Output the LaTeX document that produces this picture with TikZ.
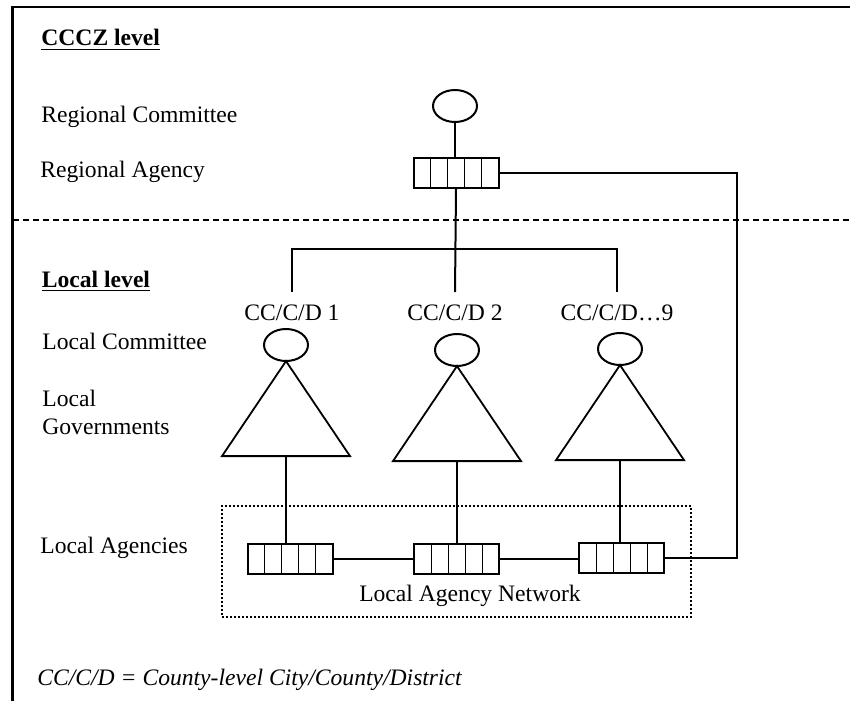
\documentclass[tikz,border=0pt]{standalone}
\usepackage{fontspec}
\setmainfont{Liberation Serif}
\usetikzlibrary{shapes.geometric}

\tikzset{
  committee/.style={draw, ellipse, line width=1pt, minimum width=22pt,
    minimum height=16pt, inner sep=0pt},
  govt/.style={draw, isosceles triangle, shape border rotate=90,
    isosceles triangle stretches, line width=0.9pt, minimum width=64pt,
    minimum height=47.5pt, inner sep=0pt, anchor=lower side},
  agency/.style={draw, line width=1pt, minimum width=42.5pt,
    minimum height=15pt, inner sep=0pt,
    path picture={
      \foreach \k in {1,...,4}
        \draw[line width=0.5pt]
          ([xshift=\k*8.5pt]path picture bounding box.south west) --
          ([xshift=\k*8.5pt]path picture bounding box.north west);
    }},
  lbl/.style={anchor=base west, inner sep=0pt,
    font=\fontsize{11.8}{13.8}\selectfont},
  cc/.style={anchor=base, inner sep=0pt,
    font=\fontsize{11.8}{13.8}\selectfont},
  link/.style={line width=1pt},
}

\begin{document}
\begin{tikzpicture}[x=0.5pt, y=-0.5pt]
\useasboundingbox (0,0) rectangle (850,701);

% frame and level divider
\draw[line width=1.2pt] (12.5,701) -- (12.5,7) -- (850,7);
\draw[line width=0.6pt, dash pattern=on 3pt off 2pt] (12.5,220) -- (850,220);

% row labels
\node[lbl] (cccz) at (41,46) {\underline{\textbf{CCCZ level}}};
\node[lbl] (rcl) at (41,122) {Regional Committee};
\node[lbl] (ral) at (40,177) {Regional Agency};
\node[lbl] (loc) at (41.5,287.5) {\underline{\textbf{Local level}}};
\node[lbl] (lcl) at (42,349) {Local Committee};
\node[lbl, align=left] (lgl) at (42,434) {Local\\Governments};
\node[lbl] (lal) at (40,553) {Local Agencies};

% regional level
\node[committee] (rc) at (455,106) {};
\node[agency] (ra) at (456,173) {};
\coordinate (bar) at (455,249);
\coordinate (turn) at (737,173);

% local level
\node[cc] (l1) at (292,320.5) {CC/C/D 1};
\node[cc] (l2) at (455,320.5) {CC/C/D 2};
\node[cc] (l3) at (617,320.5) {CC/C/D…9};

\node[committee] (c1) at (286,345) {};
\node[committee] (c2) at (457,350) {};
\node[committee] (c3) at (620,349) {};

\node[govt] (g1) at (286,457) {};
\node[govt] (g2) at (457,462) {};
\node[govt] (g3) at (620,461) {};

\node[draw, line width=1.1pt, dash pattern=on 1pt off 1pt, minimum width=234.5pt,
  minimum height=55.5pt, inner sep=0pt] (lan) at (456.5,561.5) {};
\node[cc] (lant) at (470,601.5) {Local Agency Network};

\node[agency] (a1) at (290,559) {};
\node[agency] (a2) at (456.5,558.5) {};
\node[agency] (a3) at (621.5,558) {};

% connectors
\draw[link] (rc.south) -- (rc.south |- ra.north);
\draw[link] (ra.south) -- (l2 |- 0,292);
\draw[link] (l1 |- 0,292) |- (bar) -| (l3 |- 0,292);
\draw[link] (ra.east) -- (turn) |- (a3.east);
\draw[link] (g1.lower side) -- (g1.lower side |- a1.north);
\draw[link] (g2.lower side) -- (g2.lower side |- a2.north);
\draw[link] (g3.lower side) -- (g3.lower side |- a3.north);
\draw[link] (a1.east) -- (a1.east -| a2.west);
\draw[link] (a2.east) -- (a2.east -| a3.west);

% note
\node[lbl] (note) at (37,685) {\itshape CC/C/D = County-level City/County/District};
\end{tikzpicture}
\end{document}
